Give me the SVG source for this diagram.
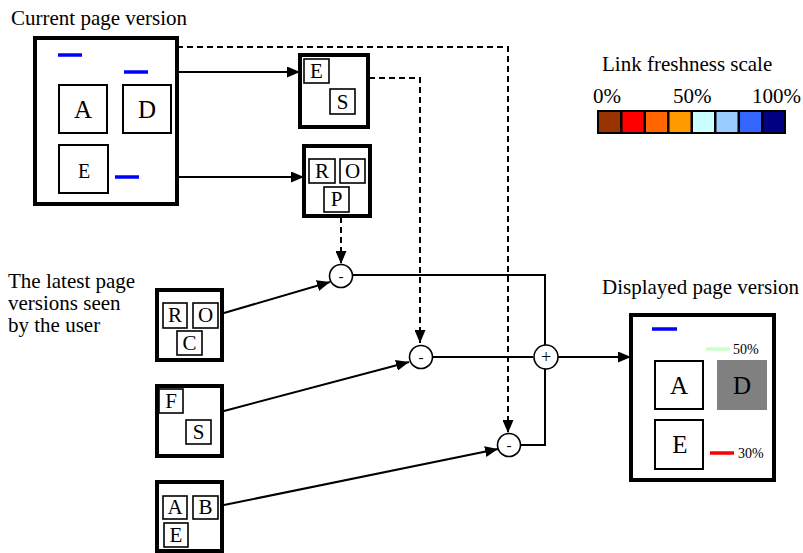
<svg xmlns="http://www.w3.org/2000/svg" width="803" height="553" viewBox="0 0 803 553" font-family="'Liberation Serif', 'DejaVu Serif', serif">
<defs>
<marker id="ah" markerUnits="userSpaceOnUse" markerWidth="13" markerHeight="11" refX="13" refY="5.5" orient="auto">
<path d="M0,0 L13,5.5 L0,11 z" fill="#000"/>
</marker>
<style>
text{font-family:'Liberation Serif','DejaVu Serif',serif;fill:#000}
.t{font-size:21px}
.outer{fill:#fff;stroke:#000;stroke-width:4}
.big{fill:#fff;stroke:#000;stroke-width:2}
.sm{fill:#fff;stroke:#000;stroke-width:1.6}
.c{fill:#fff;stroke:#000;stroke-width:1.6}
.ln{fill:none;stroke:#000;stroke-width:2}
.ds{fill:none;stroke:#000;stroke-width:2;stroke-dasharray:6,4}
.blue{stroke:#0000ff;stroke-width:3.5}
.bl{font-size:25px;text-anchor:middle}
.sl{font-size:21px;text-anchor:middle}
.pc{font-size:14px}
</style>
</defs>
<rect width="803" height="553" fill="#fff"/>

<text class="t" x="11" y="25">Current page version</text>
<text class="t" x="602" y="71">Link freshness scale</text>
<text class="t" x="602" y="294">Displayed page version</text>
<g id="leftlabel">
<text class="t" x="8" y="288">The latest page</text>
<text class="t" x="8" y="310">versions seen</text>
<text class="t" x="8" y="332">by the user</text>
</g>

<g id="connectors">
<path class="ds" d="M177,47 H508 V433" marker-end="url(#ah)"/>
<path class="ds" d="M369,78 H420 V343" marker-end="url(#ah)"/>
<path class="ds" d="M341,217 V264" marker-end="url(#ah)"/>
<path class="ln" d="M157,72 H300" marker-end="url(#ah)"/>
<path class="ln" d="M157,177 H304" marker-end="url(#ah)"/>
<path class="ln" d="M224,313 L330,282" marker-end="url(#ah)"/>
<path class="ln" d="M224,411 L409,362" marker-end="url(#ah)"/>
<path class="ln" d="M224,505 L498,449" marker-end="url(#ah)"/>
<path class="ln" d="M353,275 H545 V345"/>
<path class="ln" d="M433,357 H533"/>
<path class="ln" d="M521,445 H545 V369"/>
<path class="ln" d="M558,357 H631" marker-end="url(#ah)"/>
</g>

<g id="current">
<rect class="outer" x="35" y="38" width="142" height="166"/>
<line class="blue" x1="58" y1="55" x2="82" y2="55"/>
<line class="blue" x1="124" y1="72" x2="148" y2="72"/>
<rect class="big" x="59" y="85" width="48" height="48"/>
<text class="bl" x="83" y="118">A</text>
<rect class="big" x="123" y="85" width="48" height="48"/>
<text class="bl" x="147" y="118">D</text>
<rect class="big" x="59" y="145" width="49" height="48"/>
<text x="84" y="178" style="font-size:20px;text-anchor:middle">E</text>
<line class="blue" x1="115" y1="177" x2="139" y2="177"/>
</g>

<g id="es">
<rect class="outer" x="300" y="55" width="68" height="72"/>
<rect class="sm" x="304" y="59" width="25" height="24"/>
<text class="sl" x="316.5" y="78">E</text>
<rect class="sm" x="330" y="89" width="25" height="25"/>
<text class="sl" x="342.5" y="109">S</text>
</g>

<g id="rop">
<rect class="outer" x="304" y="146" width="66" height="70"/>
<rect class="sm" x="309" y="159" width="26" height="24"/>
<text class="sl" x="322" y="178">R</text>
<rect class="sm" x="340" y="159" width="25" height="24"/>
<text class="sl" x="352.5" y="178">O</text>
<rect class="sm" x="324" y="187" width="25" height="25"/>
<text class="sl" x="336.5" y="206">P</text>
</g>

<g id="scale">
<text class="t" x="593" y="103">0%</text>
<text class="t" x="673" y="103">50%</text>
<text class="t" x="752" y="103">100%</text>
<rect x="597" y="110" width="189" height="24" fill="#000"/>
<rect x="599" y="112" width="21" height="20" fill="#993300"/>
<rect x="622.5" y="112" width="21" height="20" fill="#ff0000"/>
<rect x="646" y="112" width="21" height="20" fill="#ff6600"/>
<rect x="669.5" y="112" width="21" height="20" fill="#ff9900"/>
<rect x="693" y="112" width="21" height="20" fill="#ccffff"/>
<rect x="716.5" y="112" width="21" height="20" fill="#99ccff"/>
<rect x="740" y="112" width="21" height="20" fill="#3366ff"/>
<rect x="763.5" y="112" width="20.5" height="20" fill="#000080"/>
</g>

<g id="roc">
<rect class="outer" x="157" y="290" width="65" height="70"/>
<rect class="sm" x="163" y="303" width="24" height="25"/>
<text class="sl" x="175" y="322">R</text>
<rect class="sm" x="193" y="303" width="25" height="25"/>
<text class="sl" x="205.5" y="322">O</text>
<rect class="sm" x="177" y="331" width="25" height="24"/>
<text class="sl" x="189.5" y="350">C</text>
</g>

<g id="fs">
<rect class="outer" x="157" y="386" width="65" height="70"/>
<rect class="sm" x="159" y="389" width="24" height="24"/>
<text class="sl" x="171" y="408">F</text>
<rect class="sm" x="186" y="420" width="25" height="24"/>
<text class="sl" x="198.5" y="439">S</text>
</g>

<g id="abe">
<rect class="outer" x="157" y="482" width="65" height="69"/>
<rect class="sm" x="163" y="496" width="24" height="23"/>
<text class="sl" x="175" y="514">A</text>
<rect class="sm" x="193" y="496" width="25" height="23"/>
<text class="sl" x="205.5" y="514">B</text>
<rect class="sm" x="164" y="523" width="24" height="24"/>
<text class="sl" x="176" y="542">E</text>
</g>

<g id="minus1">
<circle class="c" cx="341" cy="276" r="11.5"/>
<text x="341" y="281" style="font-size:15px;text-anchor:middle">-</text>
</g>
<g id="minus2">
<circle class="c" cx="421" cy="357" r="11.5"/>
<text x="421" y="362" style="font-size:15px;text-anchor:middle">-</text>
</g>
<g id="minus3">
<circle class="c" cx="509" cy="445" r="11.5"/>
<text x="509" y="450" style="font-size:15px;text-anchor:middle">-</text>
</g>
<g id="plus">
<circle class="c" cx="546" cy="357" r="12"/>
<text x="546" y="363" style="font-size:18px;text-anchor:middle">+</text>
</g>

<g id="displayed">
<rect class="outer" x="631" y="315" width="143" height="165"/>
<line class="blue" x1="652" y1="329" x2="677" y2="329"/>
<line x1="706" y1="349" x2="730" y2="349" stroke="#ccffcc" stroke-width="3.5"/>
<text class="pc" x="733" y="354">50%</text>
<rect class="big" x="655" y="361" width="48" height="48"/>
<text class="bl" x="679" y="394">A</text>
<rect x="717" y="360" width="50" height="50" fill="#808080"/>
<text class="bl" x="742" y="394">D</text>
<rect class="big" x="655" y="420" width="48" height="49"/>
<text class="bl" x="680" y="453">E</text>
<line x1="710" y1="453" x2="734" y2="453" stroke="#ff0000" stroke-width="3.5"/>
<text class="pc" x="738" y="458">30%</text>
</g>
</svg>
